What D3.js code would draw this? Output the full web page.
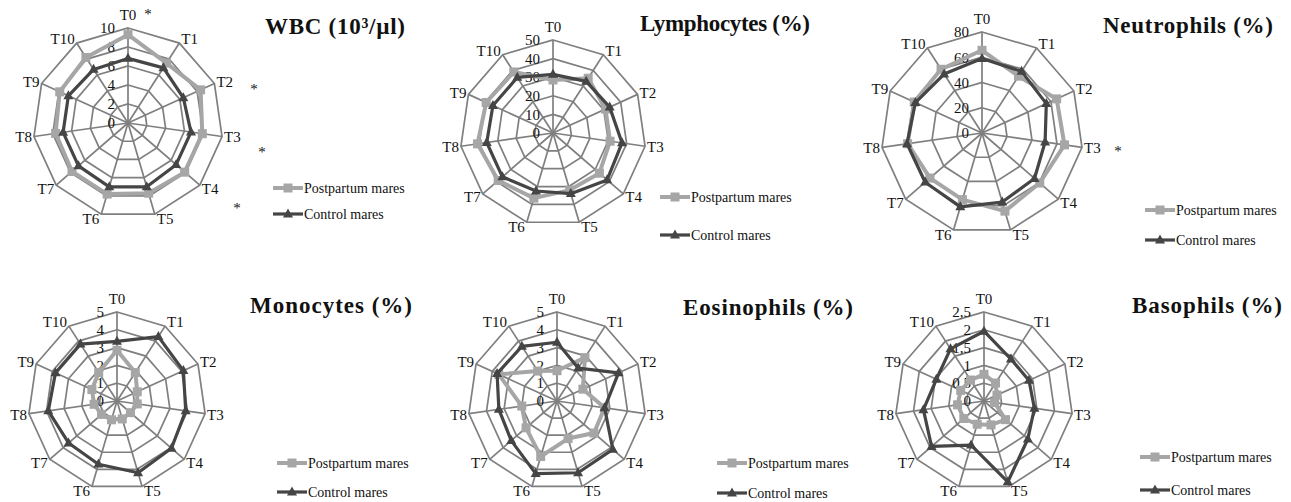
<!DOCTYPE html>
<html>
<head>
<meta charset="utf-8">
<script src="https://cdn.jsdelivr.net/npm/d3@7/dist/d3.min.js"></script>
<style>
  html, body { margin: 0; padding: 0; background: #fff; }
  svg { display: block; }
  text { font-family: "Liberation Serif", "Times New Roman", serif; fill: #111; }
</style>
</head>
<body>
<svg id="chart" width="1291" height="502"></svg>
<script>
// ---- data ----
const categories = ["T0","T1","T2","T3","T4","T5","T6","T7","T8","T9","T10"];
const seriesNames = ["Postpartum mares", "Control mares"];

const wbcPost  = [9.3, 7.5, 8.4, 7.9, 7.9, 7.7, 7.8, 7.8, 7.7, 7.9, 8.2];
const wbcCtrl  = [6.8, 6.9, 6.4, 6.7, 6.7, 7.0, 7.0, 6.9, 6.9, 6.9, 6.7];
const wbcTicks = [0, 2, 4, 6, 8, 10];
const wbcTickLabels = ["0", "2", "4", "6", "8", "10"];

const lymPost  = [28.5, 35, 31, 31, 33, 32, 36.5, 39, 41, 39.5, 39];
const lymCtrl  = [31.5, 33, 33.5, 37.5, 38.5, 34, 32.5, 36, 36, 35.5, 35.5];
const lymTicks = [0, 10, 20, 30, 40, 50];
const lymTickLabels = ["0", "10", "20", "30", "40", "50"];

const neuPost  = [65.5, 53.5, 65, 66, 60.5, 64.5, 55, 54.5, 59.5, 59, 60];
const neuCtrl  = [59, 58, 56, 50.5, 55, 57, 61, 59.5, 60, 58, 55.5];
const neuTicks = [0, 20, 40, 60, 80];
const neuTickLabels = ["0", "20", "40", "60", "80"];

const monPost  = [2.85, 1.9, 1.25, 1.15, 1.0, 1.05, 1.1, 1.15, 1.3, 1.55, 1.9];
const monCtrl  = [3.35, 4.3, 4.1, 3.9, 4.05, 4.2, 3.7, 3.6, 3.9, 3.8, 3.8];
const monTicks = [0, 1, 2, 3, 4, 5];
const monTickLabels = ["0", "1", "2", "3", "4", "5"];

const eosPost  = [1.7, 2.9, 1.6, 2.7, 2.75, 2.2, 3.25, 2.3, 2.0, 3.6, 2.0];
const eosCtrl  = [3.3, 2.2, 3.8, 2.7, 4.15, 4.2, 4.25, 3.4, 3.3, 3.7, 3.65];
const eosTicks = [0, 1, 2, 3, 4, 5];
const eosTickLabels = ["0", "1", "2", "3", "4", "5"];

const basPost  = [0.75, 0.6, 0.4, 0.3, 0.8, 0.7, 0.68, 0.75, 0.75, 0.72, 0.7];
const basCtrl  = [1.96, 1.4, 1.39, 1.43, 1.63, 2.37, 1.29, 1.95, 1.72, 1.47, 1.74];
const basTicks = [0, 0.5, 1, 1.5, 2, 2.5];
const basTickLabels = ["0", "0,5", "1", "1,5", "2", "2,5"];

// ---- layout ----
const charts = [
  { title: "WBC (10³/µl)", post: wbcPost, ctrl: wbcCtrl, ticks: wbcTicks, tickLabels: wbcTickLabels,
    cx: 128, cy: 123, r: 95, titleX: 335, titleY: 34, titleW: 140, legX: 273, legY1: 188, legY2: 214,
    stars: [[148, 19], [254, 94], [262, 157], [237, 213]] },
  { title: "Lymphocytes (%)", post: lymPost, ctrl: lymCtrl, ticks: lymTicks, tickLabels: lymTickLabels,
    cx: 553, cy: 133, r: 93, titleX: 725, titleY: 31, titleW: 170, legX: 660, legY1: 197, legY2: 235, stars: [] },
  { title: "Neutrophils (%)", post: neuPost, ctrl: neuCtrl, ticks: neuTicks, tickLabels: neuTickLabels,
    cx: 982, cy: 133, r: 101, titleX: 1188, titleY: 33, titleW: 170, legX: 1145, legY1: 210, legY2: 240,
    stars: [[1118, 156]] },
  { title: "Monocytes (%)", post: monPost, ctrl: monCtrl, ticks: monTicks, tickLabels: monTickLabels,
    cx: 117, cy: 401, r: 89, titleX: 331, titleY: 313, titleW: 162, legX: 277, legY1: 463, legY2: 492, stars: [] },
  { title: "Eosinophils (%)", post: eosPost, ctrl: eosCtrl, ticks: eosTicks, tickLabels: eosTickLabels,
    cx: 557, cy: 401, r: 89, titleX: 768, titleY: 315, titleW: 170, legX: 717, legY1: 463, legY2: 493, stars: [] },
  { title: "Basophils (%)", post: basPost, ctrl: basCtrl, ticks: basTicks, tickLabels: basTickLabels,
    cx: 984, cy: 401, r: 89, titleX: 1207, titleY: 313, titleW: 150, legX: 1140, legY1: 457, legY2: 490, stars: [] }
];

const gridColor = "#7f7f7f";
const postColor = "#a6a6a6";
const ctrlColor = "#454545";

const svg = d3.select("#chart");

const angle = d3.scaleLinear().domain([0, categories.length]).range([0, 2 * Math.PI]);

function triPath(s) {
  const h = s * 0.9;
  return `M0,${-h * 0.62}L${s / 2},${h * 0.38}L${-s / 2},${h * 0.38}Z`;
}

charts.forEach(c => {
  const g = svg.append("g").attr("transform", `translate(${c.cx},${c.cy})`);
  const maxV = c.ticks[c.ticks.length - 1];
  const rScale = d3.scaleLinear().domain([0, maxV]).range([0, c.r]);
  const idx = d3.range(categories.length);

  const ringLine = d3.lineRadial().angle(i => angle(i)).curve(d3.curveLinearClosed);

  // rings
  c.ticks.filter(t => t > 0).forEach(t => {
    g.append("path")
      .attr("d", ringLine.radius(() => rScale(t))(idx))
      .attr("fill", "none").attr("stroke", gridColor).attr("stroke-width", 1.7);
  });
  // spokes
  idx.forEach(i => {
    const a = angle(i);
    g.append("line")
      .attr("x1", 0).attr("y1", 0)
      .attr("x2", Math.sin(a) * c.r).attr("y2", -Math.cos(a) * c.r)
      .attr("stroke", gridColor).attr("stroke-width", 1.7);
  });
  // tick labels
  c.ticks.forEach((t, k) => {
    g.append("text")
      .attr("x", -13).attr("y", -rScale(t))
      .attr("dy", "0.35em")
      .attr("text-anchor", "end")
      .attr("font-size", 15)
      .text(c.tickLabels[k]);
  });
  // category labels
  idx.forEach(i => {
    const a = angle(i);
    const vx = Math.sin(a) * c.r, vy = -Math.cos(a) * c.r;
    const s = Math.sin(a);
    let x, y, anchor;
    if (Math.abs(s) < 0.1) { x = vx; y = vy - 13; anchor = "middle"; }
    else { x = vx + (s > 0 ? 2 : -2); y = vy - Math.cos(a) * 5; anchor = s > 0 ? "start" : "end"; }
    g.append("text")
      .attr("x", x).attr("y", y)
      .attr("dy", "0.35em")
      .attr("text-anchor", anchor)
      .attr("font-size", 15)
      .text(categories[i]);
  });

  // series
  const seriesLine = d3.lineRadial()
    .angle((d, i) => angle(i))
    .radius(d => rScale(d))
    .curve(d3.curveLinearClosed);

  g.append("path").attr("d", seriesLine(c.post))
    .attr("fill", "none").attr("stroke", postColor).attr("stroke-width", 4).attr("stroke-linejoin", "round");
  c.post.forEach((v, i) => {
    const a = angle(i), rr = rScale(v);
    g.append("rect")
      .attr("x", Math.sin(a) * rr - 4.5).attr("y", -Math.cos(a) * rr - 4.5)
      .attr("width", 9).attr("height", 9).attr("fill", postColor);
  });

  g.append("path").attr("d", seriesLine(c.ctrl))
    .attr("fill", "none").attr("stroke", ctrlColor).attr("stroke-width", 3.2).attr("stroke-linejoin", "round");
  c.ctrl.forEach((v, i) => {
    const a = angle(i), rr = rScale(v);
    g.append("path")
      .attr("transform", `translate(${Math.sin(a) * rr},${-Math.cos(a) * rr})`)
      .attr("d", triPath(10)).attr("fill", ctrlColor);
  });

  // title
  svg.append("text")
    .attr("x", c.titleX).attr("y", c.titleY)
    .attr("text-anchor", "middle")
    .attr("font-size", 23).attr("font-weight", "bold")
    .attr("textLength", c.titleW).attr("lengthAdjust", "spacing")
    .text(c.title);

  // legend
  const lg = svg.append("g");
  [[c.legY1, postColor, "sq", seriesNames[0]], [c.legY2, ctrlColor, "tri", seriesNames[1]]].forEach(([y, col, m, name]) => {
    lg.append("line").attr("x1", c.legX).attr("x2", c.legX + 30).attr("y1", y).attr("y2", y)
      .attr("stroke", col).attr("stroke-width", m === "sq" ? 4 : 3.2);
    if (m === "sq") {
      lg.append("rect").attr("x", c.legX + 10.5).attr("y", y - 4.5).attr("width", 9).attr("height", 9).attr("fill", col);
    } else {
      lg.append("path").attr("transform", `translate(${c.legX + 15},${y})`).attr("d", triPath(10)).attr("fill", col);
    }
    lg.append("text").attr("x", c.legX + 31).attr("y", y).attr("dy", "0.35em")
      .attr("font-size", 14).text(name);
  });

  // significance stars
  c.stars.forEach(([x, y]) => {
    svg.append("text").attr("x", x).attr("y", y).attr("text-anchor", "middle")
      .attr("font-size", 15).text("*");
  });
});
</script>
</body>
</html>
